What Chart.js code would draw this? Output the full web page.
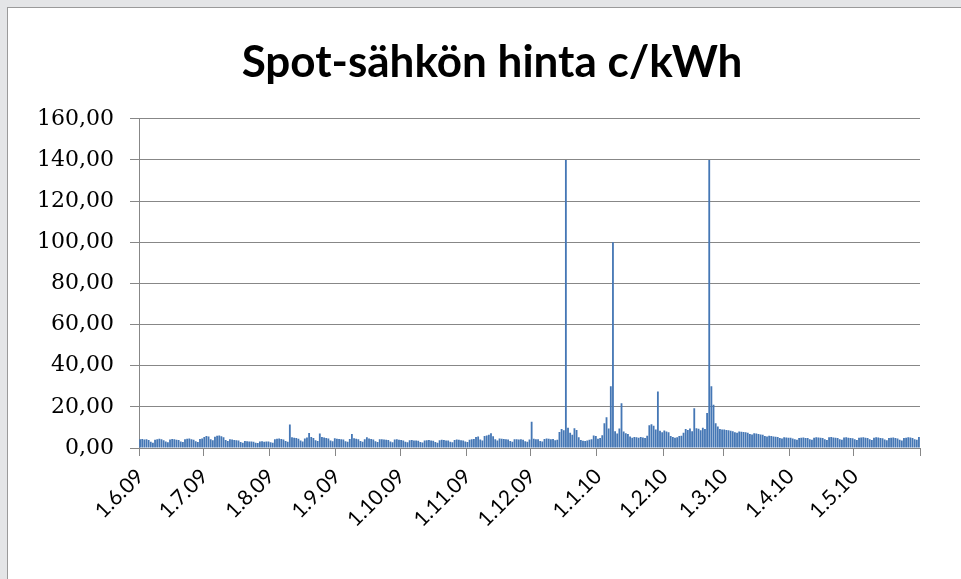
<!DOCTYPE html>
<html>
<head>
<meta charset="utf-8">
<script src="https://cdn.jsdelivr.net/npm/chart.js@4.4.0/dist/chart.umd.min.js"></script>
<style>
html,body{margin:0;padding:0;width:961px;height:579px;overflow:hidden;background:#e4e5e7;}
#box{position:absolute;left:7px;top:7px;width:1000px;height:600px;background:#fff;border-top:1px solid #9a9a9a;border-left:1px solid #9a9a9a;}
#spot{position:absolute;left:0;top:0;}
</style>
</head>
<body>
<div id="box"><canvas id="spot" width="953" height="571"></canvas></div>
<script>
// kuukauden alut (x-akselin otsikot) ja päivien määrä
var monthLabels=["1.6.09","1.7.09","1.8.09","1.9.09","1.10.09","1.11.09","1.12.09","1.1.10","1.2.10","1.3.10","1.4.10","1.5.10"];
var monthDays=[30,31,31,30,31,30,31,31,28,31,30,31];
var monthNums=[6,7,8,9,10,11,12,1,2,3,4,5];
var monthYears=["09","09","09","09","09","09","09","10","10","10","10","10"];

// päivän hinta c/kWh (luettu kuvasta)
var jun09=[4.2,4.4,4.1,4.3,3.9,3.0,2.6,4.0,4.3,4.5,4.2,3.8,3.1,2.8,4.1,4.4,4.3,4.0,3.9,3.2,2.9,4.2,4.5,4.6,4.3,4.0,3.3,2.9,4.4,4.6];
var jul09=[5.4,5.8,5.6,4.2,3.8,5.5,5.9,6.1,5.7,5.2,3.9,3.4,4.3,4.1,3.9,3.8,3.6,2.9,2.6,3.4,3.3,3.2,3.1,3.0,2.6,2.4,3.1,3.3,3.0,3.2,3.1];
var aug09=[2.8,2.5,4.2,4.5,4.6,4.4,4.1,3.4,3.0,11.4,5.2,5.0,4.8,4.5,3.6,3.2,4.6,5.1,7.3,5.4,4.9,3.8,3.4,7.0,5.3,5.1,4.9,4.6,3.7,3.3,4.7];
var sep09=[4.5,4.4,4.3,4.1,3.3,3.0,4.4,6.8,4.7,4.5,4.2,3.4,3.0,4.3,5.2,4.6,4.4,4.1,3.3,2.9,4.2,4.3,4.1,4.0,3.9,3.2,2.8,4.1,4.2,4.0];
var oct09=[3.9,3.7,3.0,2.8,3.8,3.9,3.7,3.6,3.5,2.9,2.7,3.7,3.8,3.9,3.6,3.5,2.9,2.6,3.8,4.0,3.9,3.7,3.6,3.0,2.8,3.9,4.1,4.0,3.8,3.7,3.1];
var nov09=[2.9,4.0,4.2,4.4,5.3,5.6,4.1,3.7,5.8,6.1,6.4,7.2,5.7,4.2,3.6,4.6,4.5,4.4,4.3,4.1,3.4,3.0,4.2,4.3,4.1,4.2,4.0,3.3,3.0,4.1];
var dec09=[12.8,4.5,4.3,4.2,3.4,3.1,4.4,4.6,4.5,4.3,4.4,3.8,4.0,7.8,9.2,8.6,140,9.8,7.4,6.5,9.6,8.7,5.2,3.9,3.5,3.4,3.6,4.0,4.2,6.1,5.8];
var jan10=[4.5,4.8,6.2,12.0,15.0,9.5,30,100,8.2,7.0,9.5,21.7,8.0,7.2,6.8,5.6,5.0,5.4,5.2,5.0,5.3,5.1,4.8,6.0,11.0,11.5,10.8,9.0,27.4,8.4,7.6];
var feb10=[8.5,8.0,7.6,5.8,5.4,5.0,5.2,5.8,6.0,7.4,9.2,8.8,9.5,8.2,19.3,9.6,9.4,8.6,9.8,9.2,17.0,140,30,21,12,10.5,9.2,9.0];
var mar10=[9.0,8.8,8.6,8.4,8.2,7.6,7.4,8.0,7.9,7.8,7.6,7.4,6.8,6.6,7.2,7.0,6.8,6.6,6.4,5.8,5.6,6.0,5.8,5.6,5.5,5.3,4.8,4.6,5.2,5.1,5.0];
var apr10=[5.0,4.6,4.2,4.0,4.8,5.0,5.1,4.9,4.8,4.3,4.0,5.0,5.2,5.1,5.0,4.8,4.2,3.9,5.2,5.3,5.1,5.0,4.9,4.3,4.0,5.1,5.2,5.0,4.9,4.7];
var may10=[4.2,3.9,5.0,5.1,5.2,5.0,4.8,4.2,3.9,5.0,5.2,5.1,4.9,4.7,4.1,3.8,4.9,5.0,5.1,4.8,4.6,4.0,3.7,4.8,5.0,5.2,5.1,4.9,4.3,4.0,5.3];

var yTicks=[0,20,40,60,80,100,120,140,160];

var prices=[].concat(jun09,jul09,aug09,sep09,oct09,nov09,dec09,jan10,feb10,mar10,apr10,may10);

//päivien otsikot
var dayLabels=[];
for(var m=0;m<monthLabels.length;m++){
    for(var d=1;d<=monthDays[m];d++){
        dayLabels.push(d+"."+monthNums[m]+"."+monthYears[m]);
    }
}

var axisGray="#878787";

var spotChart=new Chart(document.getElementById("spot"),{
    type:"bar",
    data:{
        labels:dayLabels,
        datasets:[{
            label:"Spot",
            data:prices,
            backgroundColor:"#4577b5",
            borderWidth:0,
            barPercentage:0.85,
            categoryPercentage:1.0
        }]
    },
    options:{
        responsive:false,
        animation:false,
        layout:{padding:{left:15,right:0,top:0,bottom:0}},
        plugins:{
            legend:{display:false},
            tooltip:{enabled:false},
            title:{
                display:true,
                text:"Spot-sähkön hinta c/kWh",
                color:"#000",
                font:{family:"Lato",size:44,weight:"bold",lineHeight:1.2},
                padding:{top:28,bottom:30}
            }
        },
        scales:{
            x:{
                grid:{
                    offset:true,
                    drawOnChartArea:false,
                    drawTicks:true,
                    tickLength:8,
                    color:function(ctx){
                        if(ctx.tick===undefined||ctx.tick.label!==""){
                            return axisGray;
                        }
                        return "rgba(0,0,0,0)";
                    }
                },
                border:{display:true,color:axisGray},
                ticks:{
                    autoSkip:false,
                    minRotation:45,
                    maxRotation:45,
                    padding:8,
                    color:"#000",
                    font:{family:"Lato",size:21},
                    callback:function(v,i){
                        var lbl=dayLabels[i];
                        return monthLabels.indexOf(lbl)>=0?lbl:"";
                    }
                },
                afterFit:function(scale){scale.height=131;}
            },
            y:{
                min:0,
                max:160,
                afterBuildTicks:function(scale){
                    scale.ticks=yTicks.map(function(v){return {value:v};});
                },
                grid:{color:axisGray,tickLength:9,drawTicks:true},
                border:{display:true,color:axisGray},
                ticks:{
                    padding:16,
                    color:"#000",
                    font:{family:"DejaVu Serif",size:22},
                    callback:function(v){return v.toFixed(2).replace(".",",");}
                },
                afterFit:function(scale){scale.width=116;}
            },
            // tyhjä oikea akseli pitää piirtoalueen oikean reunan paikallaan
            y2:{
                position:"right",
                display:true,
                grid:{display:false},
                border:{display:false},
                ticks:{display:false},
                afterFit:function(scale){scale.width=41;}
            }
        }
    }
});
</script>
</body>
</html>
